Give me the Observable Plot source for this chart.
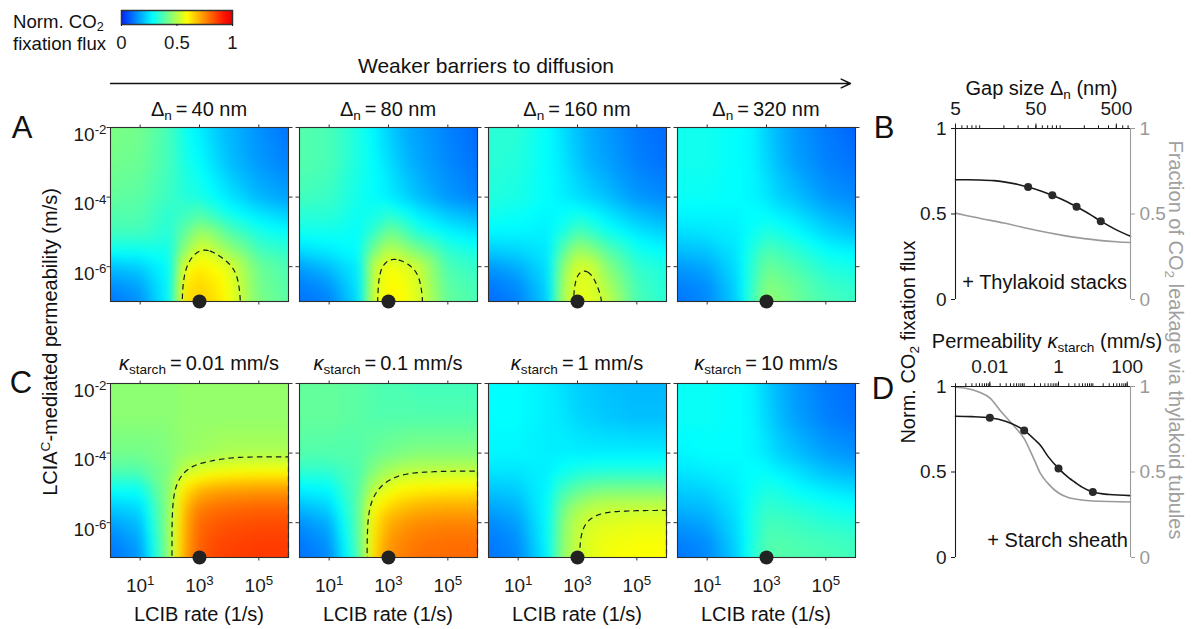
<!DOCTYPE html>
<html><head><meta charset="utf-8">
<script src="https://cdn.jsdelivr.net/npm/d3@7"></script>
<script src="https://cdn.jsdelivr.net/npm/@observablehq/plot@0.6"></script>
<style>
body{margin:0;background:#fff;font-family:"Liberation Sans",Arial,Helvetica,sans-serif;}
#root{position:relative;width:1193px;height:629px;overflow:hidden;background:#fff}
#root svg{position:absolute;}
.t{position:absolute;white-space:nowrap;color:#111;line-height:1;font-family:"Liberation Sans",Arial,sans-serif;}
.t sub{font-size:0.68em;vertical-align:-0.28em;line-height:0}
.t sup{font-size:0.68em;vertical-align:0.55em;line-height:0}
</style></head><body><div id="root"></div>
<script>
// ---------------- data ----------------
// grid positions (log10 exponents)
const lcibExp = [0, 1, 2, 2.5, 3, 3.5, 4, 5, 6];           // LCIB rate 10^e (1/s)
const permExp = [-2, -3, -4, -4.5, -5, -5.5, -6, -6.5, -7]; // permeability 10^e (m/s), top -> bottom

const gapLabels = ["40", "80", "160", "320"];
const starchLabels = ["0.01", "0.1", "1", "10"];

// Normalized CO2 fixation flux, rows = permExp, cols = lcibExp
const fluxGap40 = [
  [0.43,0.42,0.36,0.30,0.26,0.22,0.19,0.14,0.10],
  [0.42,0.41,0.36,0.31,0.28,0.24,0.20,0.15,0.12],
  [0.40,0.39,0.35,0.32,0.31,0.28,0.25,0.19,0.16],
  [0.38,0.38,0.33,0.35,0.38,0.34,0.30,0.25,0.22],
  [0.36,0.36,0.32,0.40,0.47,0.44,0.38,0.31,0.28],
  [0.30,0.30,0.30,0.45,0.545,0.51,0.46,0.36,0.33],
  [0.20,0.22,0.28,0.56,0.615,0.585,0.55,0.41,0.37],
  [0.14,0.17,0.28,0.615,0.645,0.62,0.57,0.42,0.38],
  [0.10,0.14,0.28,0.635,0.658,0.635,0.58,0.43,0.39]];
const fluxGap80 = [
  [0.38,0.37,0.31,0.27,0.22,0.18,0.16,0.12,0.09],
  [0.38,0.37,0.31,0.28,0.24,0.20,0.17,0.13,0.10],
  [0.36,0.35,0.30,0.28,0.26,0.23,0.20,0.15,0.12],
  [0.33,0.33,0.29,0.30,0.33,0.30,0.26,0.21,0.18],
  [0.30,0.30,0.28,0.34,0.42,0.38,0.32,0.27,0.24],
  [0.24,0.26,0.28,0.42,0.50,0.47,0.42,0.33,0.30],
  [0.16,0.20,0.26,0.515,0.58,0.56,0.525,0.37,0.34],
  [0.12,0.15,0.25,0.525,0.60,0.58,0.54,0.39,0.36],
  [0.10,0.12,0.24,0.54,0.61,0.59,0.55,0.40,0.37]];
const fluxGap160 = [
  [0.33,0.33,0.28,0.24,0.20,0.17,0.15,0.11,0.09],
  [0.33,0.32,0.28,0.25,0.21,0.18,0.16,0.12,0.10],
  [0.32,0.31,0.28,0.26,0.24,0.22,0.20,0.15,0.13],
  [0.30,0.29,0.27,0.28,0.30,0.28,0.25,0.20,0.17],
  [0.27,0.27,0.26,0.31,0.375,0.34,0.30,0.25,0.22],
  [0.22,0.23,0.25,0.38,0.47,0.44,0.38,0.30,0.27],
  [0.15,0.18,0.24,0.445,0.545,0.53,0.445,0.34,0.31],
  [0.11,0.14,0.23,0.475,0.558,0.55,0.485,0.36,0.32],
  [0.09,0.12,0.22,0.49,0.56,0.555,0.52,0.37,0.33]];
const fluxGap320 = [
  [0.30,0.30,0.28,0.27,0.22,0.18,0.15,0.11,0.08],
  [0.30,0.30,0.28,0.27,0.23,0.19,0.16,0.12,0.10],
  [0.29,0.29,0.28,0.27,0.25,0.22,0.20,0.15,0.13],
  [0.27,0.27,0.27,0.28,0.28,0.26,0.24,0.19,0.16],
  [0.24,0.25,0.26,0.29,0.32,0.30,0.28,0.23,0.20],
  [0.20,0.21,0.25,0.31,0.37,0.35,0.33,0.28,0.26],
  [0.15,0.17,0.24,0.33,0.41,0.39,0.37,0.32,0.30],
  [0.12,0.14,0.23,0.34,0.44,0.42,0.40,0.35,0.33],
  [0.10,0.13,0.22,0.35,0.458,0.44,0.41,0.37,0.35]];
const fluxStarch001 = [
  [0.45,0.45,0.45,0.46,0.46,0.46,0.46,0.46,0.46],
  [0.45,0.45,0.45,0.46,0.46,0.46,0.46,0.46,0.46],
  [0.42,0.42,0.44,0.46,0.47,0.48,0.49,0.49,0.49],
  [0.38,0.38,0.43,0.51,0.545,0.56,0.57,0.58,0.58],
  [0.30,0.30,0.45,0.62,0.68,0.70,0.71,0.72,0.72],
  [0.22,0.24,0.46,0.68,0.76,0.78,0.79,0.80,0.80],
  [0.16,0.20,0.47,0.70,0.80,0.82,0.83,0.84,0.84],
  [0.12,0.17,0.47,0.71,0.81,0.84,0.85,0.86,0.86],
  [0.10,0.15,0.47,0.72,0.817,0.85,0.86,0.87,0.87]];
const fluxStarch01 = [
  [0.40,0.40,0.39,0.38,0.37,0.37,0.36,0.36,0.36],
  [0.40,0.40,0.39,0.38,0.38,0.38,0.38,0.38,0.38],
  [0.38,0.38,0.38,0.40,0.42,0.43,0.44,0.44,0.44],
  [0.34,0.34,0.37,0.44,0.48,0.50,0.505,0.51,0.51],
  [0.27,0.28,0.38,0.50,0.56,0.59,0.60,0.61,0.61],
  [0.20,0.23,0.39,0.58,0.64,0.67,0.69,0.70,0.70],
  [0.14,0.18,0.39,0.62,0.70,0.73,0.75,0.76,0.76],
  [0.11,0.15,0.39,0.63,0.73,0.76,0.78,0.79,0.79],
  [0.10,0.13,0.38,0.64,0.743,0.77,0.79,0.80,0.80]];
const fluxStarch1 = [
  [0.28,0.28,0.26,0.24,0.22,0.21,0.20,0.19,0.19],
  [0.28,0.28,0.26,0.25,0.23,0.22,0.21,0.20,0.20],
  [0.27,0.27,0.26,0.26,0.26,0.26,0.26,0.26,0.26],
  [0.25,0.25,0.26,0.29,0.31,0.32,0.32,0.32,0.32],
  [0.21,0.22,0.27,0.35,0.39,0.41,0.42,0.42,0.42],
  [0.17,0.19,0.28,0.41,0.47,0.50,0.51,0.51,0.51],
  [0.13,0.16,0.28,0.44,0.515,0.54,0.55,0.56,0.56],
  [0.11,0.14,0.28,0.45,0.522,0.56,0.57,0.58,0.58],
  [0.10,0.13,0.27,0.46,0.521,0.56,0.58,0.59,0.59]];
const fluxStarch10 = [
  [0.29,0.29,0.28,0.27,0.22,0.18,0.15,0.11,0.09],
  [0.29,0.29,0.28,0.27,0.23,0.19,0.16,0.12,0.10],
  [0.27,0.28,0.28,0.27,0.25,0.22,0.20,0.16,0.14],
  [0.25,0.26,0.27,0.28,0.28,0.26,0.24,0.20,0.18],
  [0.22,0.23,0.26,0.29,0.31,0.30,0.28,0.25,0.23],
  [0.19,0.20,0.25,0.30,0.34,0.33,0.32,0.30,0.28],
  [0.15,0.17,0.24,0.31,0.36,0.36,0.35,0.33,0.32],
  [0.12,0.14,0.23,0.31,0.375,0.375,0.37,0.36,0.35],
  [0.10,0.13,0.22,0.32,0.383,0.385,0.38,0.37,0.36]];

const contourLevel = 0.52;
const operatingPoint = [{rate: 1e3, perm: 1e-7}];
const lcibTicks = [1e1, 1e3, 1e5];
const permTicks = [1e-6, 1e-4, 1e-2];

// colour map (jet-like)
const colorStops = [0, 0.28, 0.59, 0.92, 1];
const colorRange = ["#0024ff", "#00ffff", "#ffff00", "#ff1400", "#e60000"];
const colorbarTicks = [0, 0.5, 1];

// Panel B: gap size sweep
const gapSize = [5,7,10,15,20,30,40,60,80,120,160,240,320,500,750];
const gapFlux = [0.700,0.700,0.699,0.695,0.688,0.673,0.658,0.632,0.610,0.573,0.542,0.495,0.458,0.407,0.370];
const gapLeakSize = [5,7,10,20,50,100,200,500,750];
const gapLeak = [0.505,0.490,0.475,0.447,0.405,0.378,0.356,0.338,0.333];
const gapDotSize = [40, 80, 160, 320];
const gapDotFlux = [0.658, 0.610, 0.542, 0.458];
const gapTickLabels = [5, 50, 500];

// Panel D: starch permeability sweep
const starchPerm = [0.001,0.003,0.01,0.03,0.1,0.2,0.3,0.5,1,2,3,5,10,30,125];
const starchFlux = [0.826,0.824,0.817,0.795,0.743,0.690,0.655,0.590,0.521,0.465,0.440,0.410,0.383,0.368,0.362];
const starchLeakPerm = [0.001,0.002,0.005,0.01,0.02,0.05,0.1,0.2,0.3,0.5,1,2,3,10,125];
const starchLeak = [0.996,0.990,0.967,0.934,0.860,0.770,0.695,0.568,0.490,0.432,0.377,0.350,0.342,0.330,0.325];
const starchDotPerm = [0.01, 0.1, 1, 10];
const starchDotFlux = [0.817, 0.743, 0.521, 0.383];
const starchTickLabels = [0.01, 1, 100];
const fracTicks = [0, 0.5, 1];

// ---------------- helpers ----------------
const root = document.getElementById("root");
const FONT = "'Liberation Sans', Arial, Helvetica, sans-serif";
const baseStyle = {background: "transparent", overflow: "visible", fontFamily: FONT, fontSize: "19px", color: "#1a1a1a"};
const colorScale = {type: "linear", domain: colorStops, range: colorRange, interpolate: "rgb", clamp: true};

function place(svg, left, top) {
  svg.style.left = left + "px"; svg.style.top = top + "px";
  root.appendChild(svg); return svg;
}
function supify(svg) {
  svg.querySelectorAll("text").forEach(t => {
    const m = t.textContent.match(/^(.*)\^(.+)$/);
    if (!m) return;
    t.textContent = m[1];
    const ts = document.createElementNS("http://www.w3.org/2000/svg", "tspan");
    ts.setAttribute("dy", "-0.5em"); ts.setAttribute("font-size", "0.7em");
    ts.textContent = m[2]; t.appendChild(ts);
  });
}
function txt(html, x, y, o = {}) {
  const d = document.createElement("div");
  d.className = "t"; d.innerHTML = html;
  d.style.left = x + "px"; d.style.top = y + "px";
  d.style.fontSize = (o.size || 20) + "px";
  if (o.color) d.style.color = o.color;
  const a = o.anchor || "middle";
  const tx = a === "middle" ? "-50%" : a === "end" ? "-100%" : "0";
  d.style.transform = `translate(${tx},-50%)` + (o.rotate ? ` rotate(${o.rotate}deg)` : "");
  root.appendChild(d);
}
function logTicks(lo, hi) {
  const t = [];
  for (let e = -4; e <= 4; e++) for (let k = 1; k < 10; k++) {
    const v = +(k * Math.pow(10, e)).toPrecision(6);
    if (v >= lo * 0.999 && v <= hi * 1.001) t.push(v);
  }
  return t;
}
const expLabel = d => "10^" + Math.round(Math.log10(d));

// ---------------- heatmaps ----------------
const colX = [110, 299, 488, 677];
const rowY = [127, 383];
const PW = 178, PH = 174;
const grids = [[fluxGap40, fluxGap80, fluxGap160, fluxGap320],
               [fluxStarch001, fluxStarch01, fluxStarch1, fluxStarch10]];

function gridData(grid) {
  const out = [];
  grid.forEach((row, i) => row.forEach((v, j) => out.push({x: Math.pow(10, lcibExp[j]), y: Math.pow(10, permExp[i]), v})));
  return out;
}

grids.forEach((rowGrids, r) => rowGrids.forEach((grid, c) => {
  const mL = 60, mR = 14, mT = 14, mB = 50;
  const data = gridData(grid);
  const marks = [
    Plot.raster(data, {x: "x", y: "y", fill: "v", interpolate: "barycentric", blur: 4, x1: 1, x2: 1e6, y1: 1e-7, y2: 1e-2, pixelSize: 1}),
    Plot.contour(data, {x: "x", y: "y", value: "v", thresholds: [contourLevel], interpolate: "barycentric", blur: 9, x1: 1, x2: 1e6, y1: 1e-7, y2: 1e-2, pixelSize: 1, fill: "none", stroke: "#1a1a1a", strokeWidth: 1.2, strokeDasharray: "5.5,4"}),
    Plot.frame({stroke: "#2e2e2e", strokeWidth: 1.1}),
    Plot.axisX({anchor: "bottom", ticks: lcibTicks, tickSize: 3.5, tickFormat: () => "", label: null, stroke: "#333"}),
    Plot.axisX({anchor: "top", ticks: lcibTicks, tickSize: 3.5, tickFormat: () => "", label: null, stroke: "#333"}),
    Plot.axisY({anchor: "left", ticks: permTicks, tickSize: 3.5, tickFormat: () => "", label: null, stroke: "#333"}),
    Plot.axisY({anchor: "right", ticks: permTicks, tickSize: 3.5, tickFormat: () => "", label: null, stroke: "#333"}),
    c === 0 ? Plot.axisY({anchor: "left", ticks: permTicks, tickSize: 0, tickPadding: 4, dy: 7, tickFormat: expLabel, label: null}) : null,
    r === 1 ? Plot.axisX({anchor: "bottom", ticks: lcibTicks, tickSize: 0, tickPadding: 21, tickFormat: expLabel, label: null}) : null,
    Plot.dot(operatingPoint, {x: "rate", y: "perm", r: 7, fill: "#222", stroke: "none"})
  ].filter(Boolean);
  const svg = Plot.plot({
    width: PW + mL + mR, height: PH + mT + mB,
    marginLeft: mL, marginRight: mR, marginTop: mT, marginBottom: mB,
    x: {type: "log", domain: [1, 1e6]}, y: {type: "log", domain: [1e-7, 1e-2]},
    color: colorScale, style: baseStyle, marks
  });
  supify(svg);
  place(svg, colX[c] - mL, rowY[r] - mT);
}));

// ---------------- colorbar ----------------
{
  const mL = 20, mR = 20, mT = 2, mB = 30;
  const svg = Plot.plot({
    width: 111 + mL + mR, height: 14 + mT + mB,
    marginLeft: mL, marginRight: mR, marginTop: mT, marginBottom: mB,
    x: {domain: [0, 1]}, y: {domain: [0, 1], axis: null},
    color: colorScale, style: {...baseStyle, fontSize: "18.6px"},
    marks: [
      Plot.raster({fill: (x, y) => x, x1: 0, x2: 1, y1: 0, y2: 1, pixelSize: 1}),
      Plot.frame({stroke: "#333", strokeWidth: 1.5}),
      Plot.axisX({anchor: "bottom", ticks: colorbarTicks, tickSize: 2, tickPadding: 9, tickFormat: d => String(d), label: null})
    ]
  });
  place(svg, 121 - mL, 10 - mT);
}

// ---------------- arrow ----------------
{
  const svg = Plot.plot({
    width: 760, height: 20, marginLeft: 10, marginRight: 10, marginTop: 0, marginBottom: 0,
    x: {domain: [0, 1], axis: null}, y: {domain: [0, 1], axis: null}, style: baseStyle,
    marks: [Plot.arrow([{a: 0, b: 1}], {x1: "a", x2: "b", y1: () => 0.5, y2: () => 0.5, stroke: "#111", strokeWidth: 1.4, headLength: 11, headAngle: 50})]
  });
  place(svg, 100, 73);
}

// ---------------- line panels ----------------
function linePanel(opt) {
  const mL = 45, mR = 45, mT = 45, mB = 15, W = 175, H = 171;
  const fluxData = opt.x.map((x, i) => ({x, y: opt.y[i]}));
  const leakData = opt.lx.map((x, i) => ({x, y: opt.ly[i]}));
  const dotData = opt.dx.map((x, i) => ({x, y: opt.dy[i]}));
  const svg = Plot.plot({
    width: W + mL + mR, height: H + mT + mB,
    marginLeft: mL, marginRight: mR, marginTop: mT, marginBottom: mB,
    x: {type: "log", domain: opt.domain, axis: null}, y: {domain: [0, 1]},
    style: baseStyle,
    marks: [
      Plot.line(leakData, {x: "x", y: "y", stroke: "#9a9a9a", strokeWidth: 1.6, curve: "monotone-x"}),
      Plot.line(fluxData, {x: "x", y: "y", stroke: "#1a1a1a", strokeWidth: 1.6, curve: "monotone-x"}),
      Plot.dot(dotData, {x: "x", y: "y", r: 4, fill: "#2a2a2a", stroke: "none"}),
      Plot.ruleX([opt.domain[0]], {y1: 0, y2: 1, stroke: "#1a1a1a", strokeWidth: 1.1}),
      Plot.ruleX([opt.domain[1]], {y1: 0, y2: 1, stroke: "#9a9a9a", strokeWidth: 1.1}),
      Plot.ruleY([1], {x1: opt.domain[0], x2: opt.domain[1], stroke: "#1a1a1a", strokeWidth: 1.1}),
      Plot.axisY({anchor: "left", ticks: fracTicks, tickSize: 4, tickPadding: 5, tickFormat: d => String(d), label: null}),
      Plot.axisY({anchor: "right", ticks: fracTicks, tickSize: 4, tickPadding: 5, tickFormat: d => String(d), label: null, color: "#9a9a9a"}),
      Plot.ruleX(logTicks(opt.domain[0], opt.domain[1]), {x: d => d, y1: 1, y2: 1.016, stroke: "#1a1a1a", strokeWidth: 1}),
      Plot.ruleX(opt.labels, {x: d => d, y1: 1, y2: 1.026, stroke: "#1a1a1a", strokeWidth: 1}),
      Plot.text(opt.labels, {x: d => d, text: d => String(d), frameAnchor: "top", lineAnchor: "middle", dy: -19.5, fontSize: 19, fill: "#1a1a1a"})
    ]
  });
  place(svg, 955 - mL, opt.top - mT);
}
linePanel({top: 128, domain: [5, 750], x: gapSize, y: gapFlux, lx: gapLeakSize, ly: gapLeak, dx: gapDotSize, dy: gapDotFlux, labels: gapTickLabels});
linePanel({top: 386, domain: [0.001, 125], x: starchPerm, y: starchFlux, lx: starchLeakPerm, ly: starchLeak, dx: starchDotPerm, dy: starchDotFlux, labels: starchTickLabels});

// ---------------- text ----------------
txt("Norm. CO<sub>2</sub>", 13, 21.5, {anchor: "start", size: 18.6});
txt("fixation flux", 13, 43.5, {anchor: "start", size: 18.6});
txt("Weaker barriers to diffusion", 486, 65, {size: 21});
gapLabels.forEach((g, i) => txt(`Δ<sub>n</sub>\u2009=\u2009${g} nm`, colX[i] + PW / 2, 108.5, {size: 20}));
starchLabels.forEach((s, i) => txt(`<i>κ</i><sub>starch</sub>\u2009=\u2009${s} mm/s`, colX[i] + PW / 2, 363, {size: 20}));
colX.forEach(x => txt("LCIB rate (1/s)", x + PW / 2, 613.5, {size: 20}));
txt("LCIA<sup>C</sup>-mediated permeability (m/s)", 50, 342, {size: 20, rotate: -90});
txt("A", 22, 126.5, {size: 31});
txt("C", 21, 381.5, {size: 31});
txt("B", 884, 126.7, {size: 31});
txt("D", 883, 388, {size: 31});
txt("Gap size Δ<sub>n</sub> (nm)", 1041.5, 87.5, {size: 20});
txt("Permeability <i>κ</i><sub>starch</sub> (mm/s)", 1047, 341, {size: 20});
txt("+ Thylakoid stacks", 1127, 282, {anchor: "end", size: 20});
txt("+ Starch sheath", 1128, 539.5, {anchor: "end", size: 20});
txt("Norm. CO<sub>2</sub> fixation flux", 908, 342, {size: 20, rotate: -90});
txt("Fraction of CO<sub>2</sub> leakage via thylakoid tubules", 1176, 340, {size: 20, rotate: 90, color: "#a0a0a0"});
</script></body></html>
